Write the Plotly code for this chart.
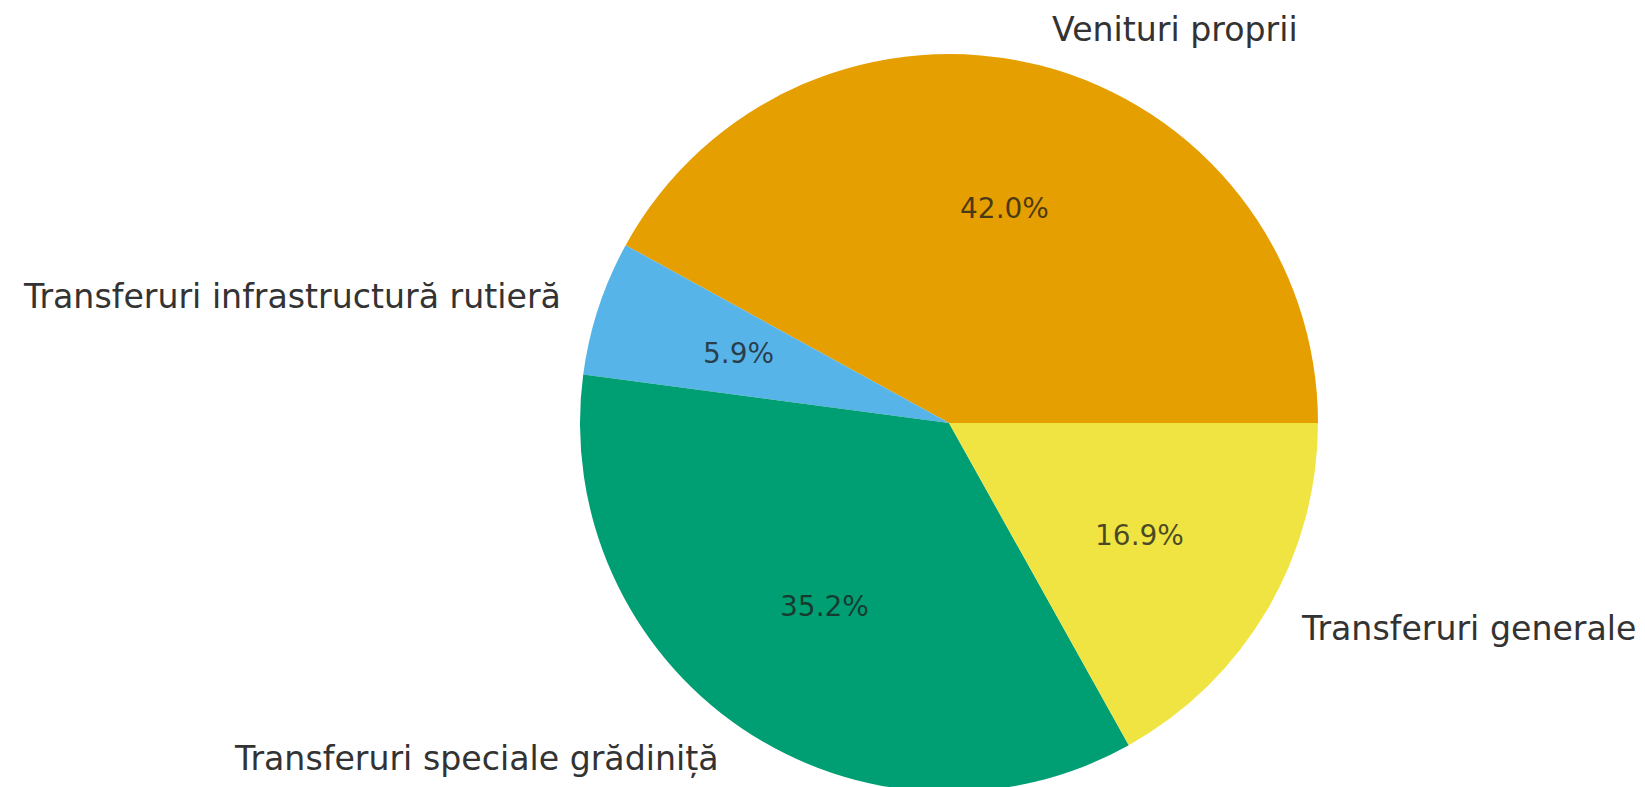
import math

import plotly.graph_objects as go

labels = [
    "Venituri proprii",
    "Transferuri infrastructură rutieră",
    "Transferuri speciale grădiniță",
    "Transferuri generale",
]
shares = [42.0, 5.9, 35.2, 16.9]
colors = ["#E69F00", "#56B4E9", "#009E73", "#F0E442"]

FONT = "DejaVu Sans"
W, H = 1645, 787
# pie centre and radius in figure pixels (the page body adds its own 8px offset)
cx, cy, r = 941, 415, 369
LABEL_DIST = 1.1
PCT_DIST = 0.6

domain = dict(
    x=[(cx - r) / W, (cx + r) / W],
    y=[max(0, (H - cy - r) / H), (H - cy + r) / H],
)

total = sum(shares)
# plotly's counterclockwise pies end the first slice at the rotation angle,
# so turn it so that the first slice starts at 3 o'clock
rotation = 90 - shares[0] / total * 360

fig = go.Figure(
    go.Pie(
        labels=labels,
        values=shares,
        sort=False,
        direction="counterclockwise",
        rotation=rotation,
        marker=dict(colors=colors, line=dict(width=0)),
        textinfo="none",
        domain=domain,
        hoverinfo="label+percent",
    )
)


def to_paper(dist, theta):
    px = cx + dist * r * math.cos(theta)
    py = cy - dist * r * math.sin(theta)
    return px / W, 1 - py / H


cum = 0.0
for label, share in zip(labels, shares):
    theta = math.radians(360 * (cum + share / 2) / total)
    cum += share

    lx, ly = to_paper(LABEL_DIST, theta)
    fig.add_annotation(
        x=lx, y=ly, xref="paper", yref="paper",
        text=label, showarrow=False,
        xanchor="left" if math.cos(theta) > 0 else "right",
        yanchor="middle",
        font=dict(family=FONT, size=33.2, color="#333333"),
    )

    tx, ty = to_paper(PCT_DIST, theta)
    fig.add_annotation(
        x=tx, y=ty, xref="paper", yref="paper",
        text=f"{share / total * 100:.1f}%", showarrow=False,
        xanchor="center", yanchor="middle",
        font=dict(family=FONT, size=28, color="rgba(30,30,30,0.78)"),
    )

fig.update_layout(
    width=W,
    height=H,
    margin=dict(l=0, r=0, t=0, b=0),
    showlegend=False,
    paper_bgcolor="white",
    plot_bgcolor="white",
    font=dict(family=FONT, color="#333333"),
)

fig.write_html("out.html")
